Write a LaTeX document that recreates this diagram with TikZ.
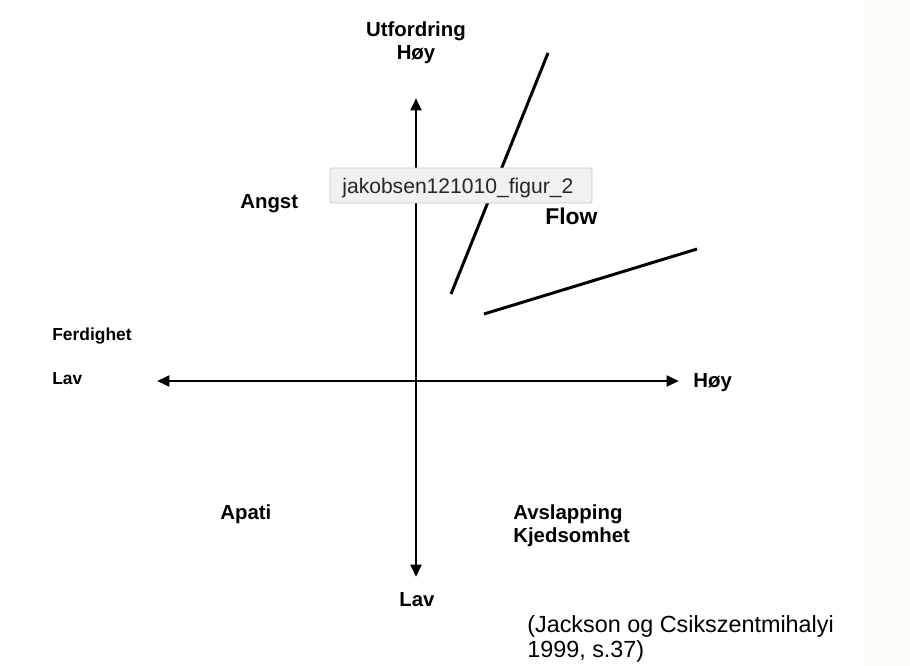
\documentclass[tikz,border=0pt]{standalone}
\usepackage{fontspec}
\setmainfont{Liberation Sans}
\usetikzlibrary{arrows.meta}
\definecolor{paper}{RGB}{254,252,248}
\definecolor{tipfill}{RGB}{241,241,241}
\definecolor{tipline}{RGB}{200,200,200}
\tikzset{
  axis/.style={line width=1.7pt, {Triangle[length=7pt,width=6pt]}-{Triangle[length=7pt,width=6pt]}},
  zone/.style={font=\bfseries\fontsize{11.6}{14}\selectfont, inner sep=0pt},
  small/.style={font=\bfseries\fontsize{9.9}{12}\selectfont, inner sep=0pt, anchor=base west},
  cite/.style={font=\fontsize{13.3}{15}\selectfont, inner sep=0pt, anchor=base west},
}
\begin{document}
\begin{tikzpicture}[x=0.02cm, y=-0.02cm]
        \useasboundingbox (0,0) rectangle (910,666);
        \fill[paper] (863,0) rectangle (910,666);
        % axes
        \coordinate (west) at (157,381);
        \coordinate (east) at (679,381);
        \coordinate (north) at (416,98);
        \coordinate (south) at (416,577);
        \draw[axis] (west) -- (east);
        \draw[axis] (south) -- (north);
        % flow channel
        \draw[line width=1.7pt] (451,294) -- (548,53);
        \draw[line width=1.7pt] (484,314) -- (697,249);
        % labels
        \node[zone, anchor=base] (challenge) at (416,36) {Utfordring};
        \node[zone, anchor=base] (highy) at (416,59) {Høy};
        \node[zone, anchor=base] (lowy) at (417,606) {Lav};
        \node[zone, anchor=base west] (highx) at (693,387) {Høy};
        \node[small] (skill) at (52,340) {Ferdighet};
        \node[small] (lowx) at (52,384) {Lav};
        \node[zone, anchor=base west] (anxiety) at (240,208) {Angst};
        \node[zone, anchor=base west, font=\bfseries\fontsize{13}{15}\selectfont] (flow) at (545,224) {Flow};
        \node[zone, anchor=base west] (apathy) at (220,519) {Apati};
        \node[zone, anchor=base west] (relax) at (513,519) {Avslapping};
        \node[zone, anchor=base west] (bored) at (513,542) {Kjedsomhet};
        \node[cite] (src1) at (527,632) {(Jackson og Csikszentmihalyi};
        \node[cite] (src2) at (527,657) {1999, s.37)};
        % tooltip
        \filldraw[fill=tipfill, draw=tipline, line width=0.5pt, rounded corners=1pt] (330,168) rectangle (592,203);
        \node[anchor=base west, inner sep=0pt, text=black!85, font=\fontsize{12}{14}\selectfont] (tip) at (342,193) {jakobsen121010\_figur\_2};
      \end{tikzpicture}
\end{document}
